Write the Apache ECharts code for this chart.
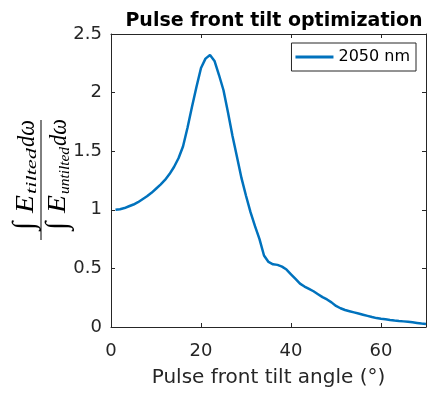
<!DOCTYPE html>
<html>
<head>
<meta charset="utf-8">
<script src="https://cdn.jsdelivr.net/npm/echarts@6/dist/echarts.min.js"></script>
<style>
  html, body { margin: 0; padding: 0; background: #fff; }
  #chart { width: 427px; height: 398px; }
</style>
</head>
<body>
<div id="chart"></div>
<script>
// Tilt angle (degrees) and normalised spectral energy ratio
const tiltAngle = [1, 2, 3, 4, 5, 6, 7, 8, 9, 10,
  11, 12, 13, 14, 15, 16, 17, 18, 19, 20,
  21, 22, 23, 24, 25, 26, 27, 28, 29, 30,
  31, 32, 33, 34, 35, 36, 37, 38, 39, 40,
  41, 42, 43, 44, 45, 46, 47, 48, 49, 50,
  51, 52, 53, 54, 55, 56, 57, 58, 59, 60,
  61, 62, 63, 64, 65, 66, 67, 68, 69, 70];
const energyRatio = [1.000, 1.005, 1.015, 1.030, 1.045, 1.065, 1.090, 1.115, 1.145, 1.180,
  1.215, 1.255, 1.305, 1.365, 1.440, 1.540, 1.700, 1.880, 2.050, 2.210,
  2.290, 2.320, 2.270, 2.150, 2.020, 1.830, 1.630, 1.450, 1.270, 1.120,
  0.980, 0.860, 0.750, 0.610, 0.555, 0.535, 0.530, 0.515, 0.490, 0.450,
  0.410, 0.370, 0.345, 0.325, 0.305, 0.280, 0.255, 0.235, 0.210, 0.180,
  0.160, 0.145, 0.135, 0.125, 0.115, 0.105, 0.095, 0.085, 0.076, 0.070,
  0.066, 0.060, 0.055, 0.051, 0.048, 0.045, 0.040, 0.035, 0.030, 0.026];
const seriesName = '2050 nm';
const xTicks = { min: 0, max: 70, interval: 20 };
const yTicks = { min: 0, max: 2.5, interval: 0.5 };

const axisColor = '#262626';
const sans = '"DejaVu Sans", Verdana, sans-serif';
const serif = '"Liberation Serif", "DejaVu Serif", serif';

const chart = echarts.init(document.getElementById('chart'), null, { renderer: 'canvas' });

function boxAxis(extra) {
  return Object.assign({
    type: 'value',
    axisLine: { show: true, onZero: false, lineStyle: { color: axisColor, width: 1 } },
    axisTick: { show: true, inside: true, length: 4, lineStyle: { color: axisColor } },
    splitLine: { show: false },
    axisLabel: { show: false }
  }, extra);
}

// Rotated fraction label: each word is stretched along the reading
// direction so that it spans [start, end] along the fraction bar.
const measureCtx = document.createElement('canvas').getContext('2d');
function mathPiece(str, start, end, centerY, size, italic) {
  const font = (italic ? 'italic ' : '') + size + 'px ' + serif;
  measureCtx.font = font;
  const w = measureCtx.measureText(str).width;
  const sx = (end - start) / w;
  return {
    type: 'text',
    x: start, y: centerY,
    scaleX: sx, scaleY: 1,
    style: { text: str, font: font, fill: '#000', align: 'left', verticalAlign: 'middle' }
  };
}
// Integral sign, drawn at its natural proportions
function integralSign(start, centerY, size) {
  return {
    type: 'text',
    x: start, y: centerY,
    style: { text: '∫', font: 'italic ' + size + 'px ' + serif, fill: '#000', align: 'left', verticalAlign: 'middle' }
  };
}

const option = {
  animation: false,
  backgroundColor: '#fff',
  title: {
    text: 'Pulse front tilt optimization',
    left: 269, textAlign: 'center', top: 7,
    textStyle: { fontFamily: sans, fontWeight: 'bold', fontSize: 19, color: '#000' }
  },
  grid: { left: 111, right: 1, top: 34, bottom: 71, containLabel: false, outerBoundsMode: 'none' },
  legend: {
    data: [{ name: seriesName, icon: 'rect' }],
    right: 11, top: 43,
    itemWidth: 38, itemHeight: 3, itemGap: 4,
    padding: [6, 6, 6, 4],
    borderColor: '#262626', borderWidth: 1, borderRadius: 0,
    backgroundColor: '#fff',
    textStyle: { fontFamily: sans, fontSize: 16, color: '#000' }
  },
  xAxis: [
    boxAxis({
      position: 'bottom', min: xTicks.min, max: xTicks.max, interval: xTicks.interval,
      axisLabel: { show: true, showMaxLabel: false, color: axisColor, fontFamily: sans, fontSize: 18, margin: 15 },
      name: 'Pulse front tilt angle (°)', nameLocation: 'middle', nameGap: 41,
      nameTextStyle: { fontFamily: sans, fontSize: 20, color: axisColor }
    }),
    boxAxis({ position: 'top', min: xTicks.min, max: xTicks.max, interval: xTicks.interval })
  ],
  yAxis: [
    boxAxis({
      position: 'left', min: yTicks.min, max: yTicks.max, interval: yTicks.interval,
      axisLabel: { show: true, color: axisColor, fontFamily: sans, fontSize: 18, margin: 9 }
    }),
    boxAxis({ position: 'right', min: yTicks.min, max: yTicks.max, interval: yTicks.interval })
  ],
  series: [{
    name: seriesName,
    type: 'line',
    xAxisIndex: 0, yAxisIndex: 0,
    data: tiltAngle.map((a, i) => [a, energyRatio[i]]),
    showSymbol: false,
    smooth: false,
    lineStyle: { color: '#0072BD', width: 2.5 },
    itemStyle: { color: '#0072BD' }
  }],
  graphic: [{
    type: 'group',
    x: 41, y: 180,
    rotation: Math.PI / 2,
    children: [
      { type: 'line', shape: { x1: -60, y1: 0, x2: 60, y2: 0 }, style: { stroke: '#000', lineWidth: 1 } },
      // numerator: ∫ E_tilted dω
      integralSign(-50, -16, 30),
      mathPiece('E', -33, -15, -15, 25, true),
      mathPiece('tilted', -14, 32, -9, 14, true),
      mathPiece('dω', 33, 60, -14, 25, true),
      // denominator: ∫ E_untilted dω
      integralSign(-50, 17, 30),
      mathPiece('E', -33, -15, 17, 25, true),
      mathPiece('untilted', -14, 33, 24, 14, true),
      mathPiece('dω', 34, 61, 18, 25, true)
    ]
  }]
};

chart.setOption(option);
</script>
</body>
</html>
